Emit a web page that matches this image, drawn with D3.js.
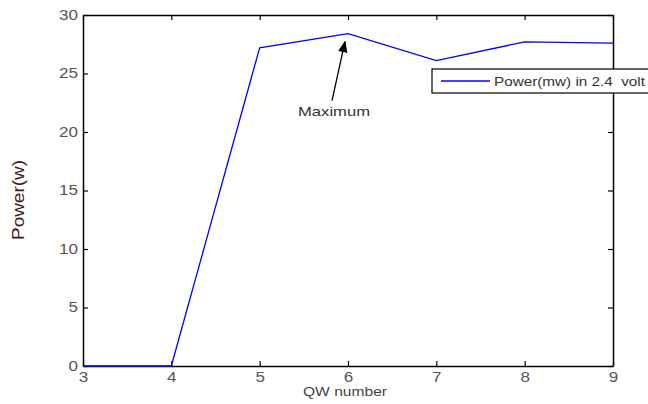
<!DOCTYPE html>
<html>
<head>
<meta charset="utf-8">
<script src="https://cdn.jsdelivr.net/npm/d3@7"></script>
<style>
  body { margin: 0; background: #fff; }
  svg { display: block; font-family: "Liberation Sans", Arial, sans-serif; }
</style>
</head>
<body>
<div id="chart"></div>
<script>
// data
var qwNumber = [3, 4, 5, 6, 7, 8, 9]
var power = [0, 0, 27.2, 28.4, 26.1, 27.7, 27.6]
var xTicks = [3, 4, 5, 6, 7, 8, 9]
var yTicks = [0, 5, 10, 15, 20, 25, 30]
var seriesName = "Power(mw) in 2.4  volt"

var width = 648, height = 404
var margin = {top: 15, right: 35, bottom: 38, left: 83}

var svg = d3.select("#chart").append("svg")
  .attr("width", width)
  .attr("height", height)

var x = d3.scaleLinear().domain([3, 9]).range([margin.left, width - margin.right])
var y = d3.scaleLinear().domain([0, 30]).range([height - margin.bottom, margin.top])

// the original text is stretched sideways, so widths are forced
var digitW = 9.5
var tickLen = 5
function styleAxis(g) {
  g.select(".domain").attr("stroke", "#000").attr("stroke-width", 1.5)
  g.selectAll(".tick line").attr("stroke", "#000").attr("stroke-width", 1.2)
  g.selectAll(".tick text")
    .attr("fill", "#555")
    .attr("font-size", 14)
    .attr("lengthAdjust", "spacingAndGlyphs")
    .attr("textLength", function() { return this.textContent.length * digitW || null })
}

svg.append("g")
  .attr("transform", `translate(0, ${y(0)})`)
  .call(d3.axisBottom(x).tickValues(xTicks).tickSizeInner(-tickLen).tickSizeOuter(0).tickPadding(6).tickFormat(d3.format("d")))
  .call(styleAxis)

svg.append("g")
  .attr("transform", `translate(${x(3)}, 0)`)
  .call(d3.axisLeft(y).tickValues(yTicks).tickSizeInner(-tickLen).tickSizeOuter(0).tickPadding(5))
  .call(styleAxis)

svg.append("g")
  .attr("transform", `translate(0, ${y(30)})`)
  .call(d3.axisTop(x).tickValues(xTicks).tickSizeInner(-tickLen).tickSizeOuter(0).tickFormat(""))
  .call(styleAxis)

svg.append("g")
  .attr("transform", `translate(${x(9)}, 0)`)
  .call(d3.axisRight(y).tickValues(yTicks).tickSizeInner(-tickLen).tickSizeOuter(0).tickFormat(""))
  .call(styleAxis)

// axis labels
svg.append("text")
  .attr("x", 303)
  .attr("y", height - 8)
  .attr("font-size", 13)
  .attr("fill", "#444")
  .attr("lengthAdjust", "spacingAndGlyphs")
  .attr("textLength", 84)
  .text("QW number")

svg.append("text")
  .attr("transform", `translate(24, 200) rotate(-90)`)
  .attr("x", -40)
  .attr("font-size", 16)
  .attr("fill", "#3a1a1a")
  .attr("lengthAdjust", "spacingAndGlyphs")
  .attr("textLength", 80)
  .text("Power(w)")

// the line
var line = d3.line()
  .x(function(d, i) { return x(qwNumber[i]) })
  .y(function(d) { return y(d) })

svg.append("path")
  .datum(power)
  .attr("fill", "none")
  .attr("stroke", "#0000ff")
  .attr("stroke-width", 1.3)
  .attr("d", line)

// annotation arrow to the maximum
var iMax = power.indexOf(d3.max(power))
var tipX = x(qwNumber[iMax]) - 3, tipY = y(power[iMax]) + 8
var tailX = tipX - 13, tailY = tipY + 59

svg.append("defs").append("marker")
  .attr("id", "head")
  .attr("viewBox", "0 0 10 10")
  .attr("refX", 9).attr("refY", 5)
  .attr("markerWidth", 9).attr("markerHeight", 9)
  .attr("orient", "auto")
  .append("path")
  .attr("d", "M0,1 L10,5 L0,9 Z")
  .attr("fill", "#000")

svg.append("line")
  .attr("x1", tailX).attr("y1", tailY)
  .attr("x2", tipX).attr("y2", tipY)
  .attr("stroke", "#000")
  .attr("stroke-width", 1.3)
  .attr("marker-end", "url(#head)")

svg.append("text")
  .attr("x", 298)
  .attr("y", tailY + 15)
  .attr("font-size", 13)
  .attr("fill", "#333")
  .attr("lengthAdjust", "spacingAndGlyphs")
  .attr("textLength", 72)
  .text("Maximum")

// legend (runs off the right edge like the original)
var legend = svg.append("g").attr("transform", "translate(432, 69)")
legend.append("rect")
  .attr("width", 240).attr("height", 24)
  .attr("fill", "#fff")
  .attr("stroke", "#000")
  .attr("stroke-width", 1.2)
legend.append("line")
  .attr("x1", 9).attr("x2", 58)
  .attr("y1", 12).attr("y2", 12)
  .attr("stroke", "#0000ff")
  .attr("stroke-width", 1.3)
legend.append("text")
  .attr("x", 62).attr("y", 17)
  .attr("font-size", 13.5)
  .attr("fill", "#333")
  .attr("xml:space", "preserve")
  .style("white-space", "pre")
  .attr("lengthAdjust", "spacingAndGlyphs")
  .attr("textLength", 151)
  .text(seriesName)
</script>
</body>
</html>
